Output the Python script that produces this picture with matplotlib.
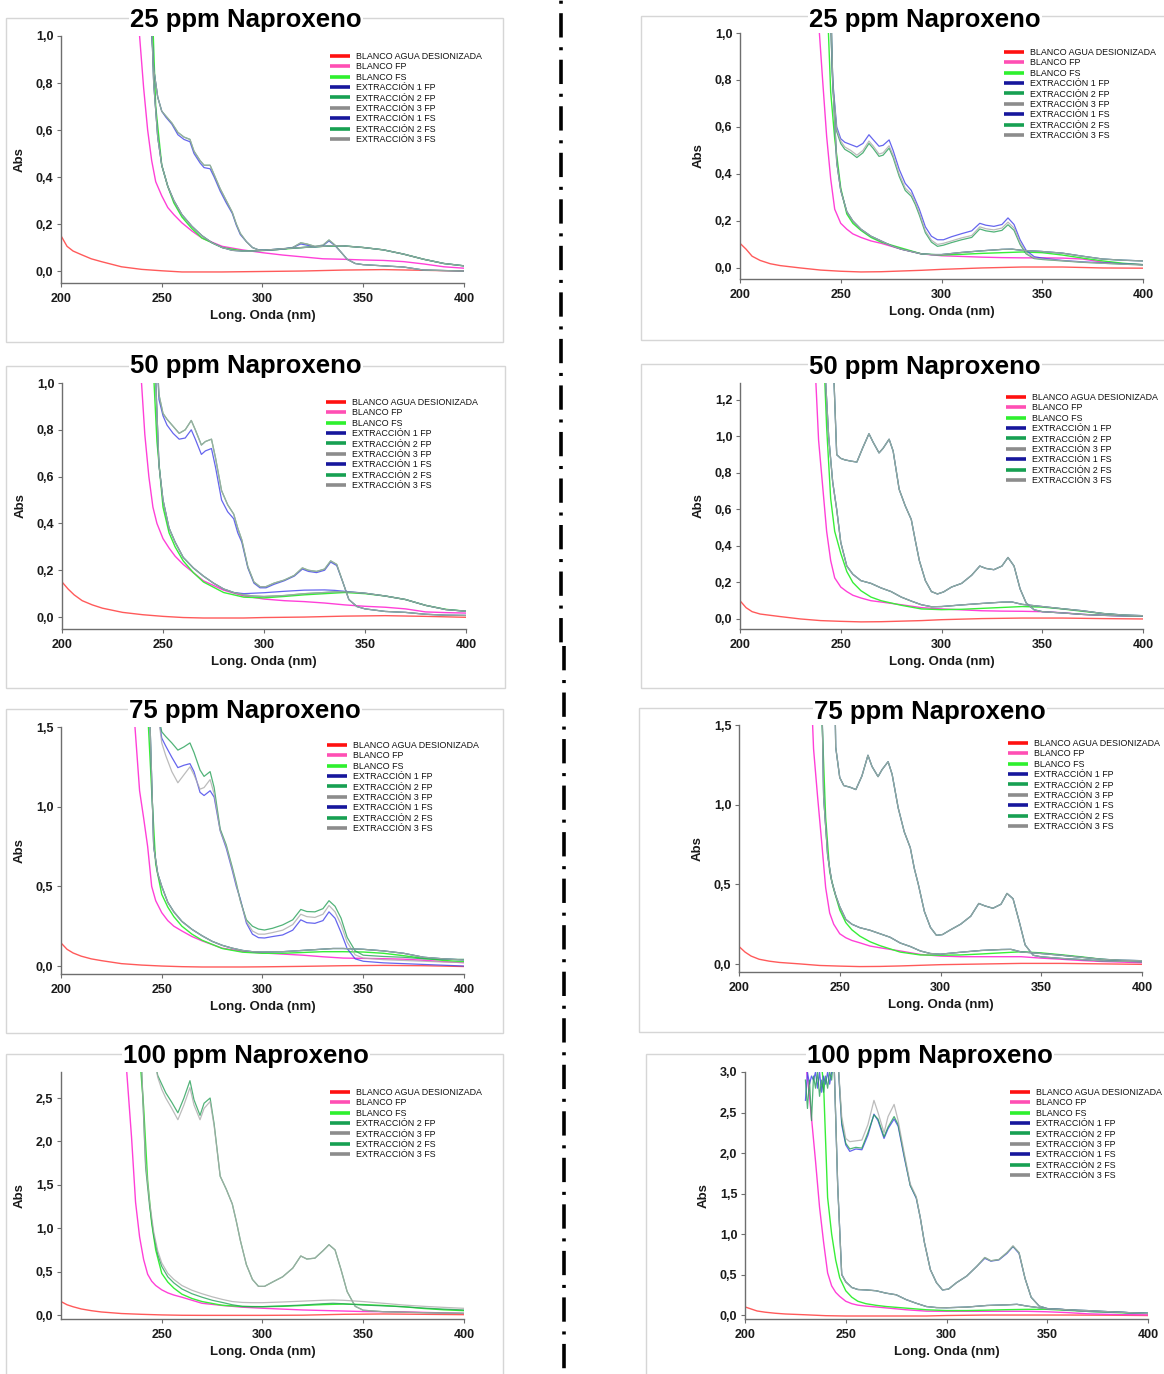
import matplotlib
matplotlib.use("Agg")
import matplotlib.pyplot as plt
from matplotlib.lines import Line2D
from matplotlib.patches import Rectangle
from matplotlib.ticker import FuncFormatter, FixedLocator
from matplotlib.font_manager import FontProperties

# ---------------- DATA ----------------
WL_RED = [200, 203, 206, 210, 215, 220, 230, 240, 250, 260, 270, 280, 290, 300, 320, 340, 360, 380, 400]
WL_BL = [228, 232, 235, 237, 239, 241, 243, 245, 247, 250, 253, 256, 260, 265, 270, 280, 290, 300, 310, 320,
         330, 340, 350, 360, 370, 380, 390, 400]
WL_LO = [232, 236, 240, 242, 244, 246, 248, 250, 253, 256, 260, 265, 270, 275, 280, 285, 290, 295, 300, 310,
         320, 330, 335, 340, 350, 360, 370, 380, 390, 400]
WL_HI = [244, 246, 248, 250, 252, 255, 258, 261, 264, 266, 269, 271, 274, 276, 279, 282, 285, 287, 289, 292,
         295, 298, 301, 305, 310, 315, 319, 322, 326, 330, 333, 336, 339, 342, 346, 350, 360, 370, 380, 390, 400]

TITLES = ["25 ppm Naproxeno", "25 ppm Naproxeno", "50 ppm Naproxeno", "50 ppm Naproxeno",
          "75 ppm Naproxeno", "75 ppm Naproxeno", "100 ppm Naproxeno", "100 ppm Naproxeno"]

# ---- 25 ppm (left) ----
L25_RED = [0.15, 0.105, 0.085, 0.07, 0.052, 0.04, 0.018, 0.007, 0.001, -0.004, -0.004, -0.004, -0.003, -0.002, 0.0, 0.004, 0.006, 0.003, 0.0]
L25_PINK = [4, 2.0, 1.6, 1.3, 1.0, 0.78, 0.6, 0.47, 0.38, 0.32, 0.27, 0.24, 0.205, 0.17, 0.14, 0.105, 0.09, 0.078, 0.068, 0.06, 0.052, 0.05, 0.047, 0.045, 0.04, 0.03, 0.018, 0.012]
L25_GRN = [4, 3, 3, 3, 3, 2.5, 1.8, 1.2, 0.7, 0.45, 0.36, 0.29, 0.23, 0.18, 0.14, 0.1, 0.086, 0.087, 0.093, 0.1, 0.105, 0.107, 0.1, 0.09, 0.072, 0.05, 0.032, 0.022]
L25_LO = [3, 3, 3, 2.5, 1.3, 0.8, 0.57, 0.45, 0.36, 0.30, 0.24, 0.19, 0.15, 0.12, 0.10, 0.088, 0.085, 0.085, 0.088, 0.095, 0.10, 0.105, 0.108, 0.107, 0.10, 0.09, 0.072, 0.05, 0.032, 0.022]
L25_HI_G = [1.2, 0.86, 0.74, 0.68, 0.66, 0.63, 0.59, 0.57, 0.56, 0.51, 0.47, 0.45, 0.45, 0.41, 0.35, 0.30, 0.25, 0.20, 0.16, 0.125, 0.10, 0.09, 0.088, 0.09, 0.093, 0.10, 0.12, 0.115, 0.105, 0.11, 0.132, 0.11, 0.08, 0.05, 0.032, 0.027, 0.022, 0.017, 0.004, 0.002, 0.0]
L25_HI_B = [1.2, 0.86, 0.74, 0.68, 0.655, 0.625, 0.58, 0.56, 0.55, 0.50, 0.46, 0.44, 0.435, 0.40, 0.34, 0.29, 0.245, 0.195, 0.155, 0.125, 0.10, 0.09, 0.088, 0.09, 0.093, 0.10, 0.115, 0.11, 0.103, 0.108, 0.128, 0.108, 0.08, 0.05, 0.032, 0.027, 0.022, 0.017, 0.004, 0.002, 0.0]

# ---- 25 ppm (right) ----
R25_RED = [0.105, 0.08, 0.05, 0.032, 0.018, 0.01, 0.0, -0.009, -0.014, -0.017, -0.016, -0.013, -0.01, -0.006, 0.0, 0.004, 0.004, 0.0, -0.001]
R25_PINK = [4, 2.0, 1.6, 1.3, 1.05, 0.80, 0.56, 0.38, 0.25, 0.19, 0.165, 0.145, 0.13, 0.115, 0.105, 0.08, 0.06, 0.052, 0.049, 0.046, 0.044, 0.043, 0.043, 0.042, 0.038, 0.025, 0.018, 0.014]
R25_GRN = [4, 3, 3, 3, 2.5, 1.8, 1.2, 0.75, 0.55, 0.34, 0.23, 0.19, 0.16, 0.13, 0.11, 0.085, 0.06, 0.055, 0.058, 0.062, 0.065, 0.068, 0.065, 0.055, 0.042, 0.03, 0.02, 0.014]
R25_LO = [3, 3, 3, 2.5, 1.5, 0.8, 0.45, 0.33, 0.24, 0.2, 0.165, 0.135, 0.115, 0.095, 0.08, 0.07, 0.06, 0.057, 0.057, 0.066, 0.073, 0.079, 0.08, 0.075, 0.07, 0.063, 0.05, 0.038, 0.033, 0.03]
R25_HI_B = [1.3, 0.8, 0.6, 0.55, 0.535, 0.525, 0.515, 0.53, 0.567, 0.547, 0.518, 0.522, 0.545, 0.50, 0.42, 0.36, 0.33, 0.29, 0.25, 0.175, 0.135, 0.12, 0.12, 0.133, 0.146, 0.158, 0.19, 0.182, 0.177, 0.185, 0.213, 0.185, 0.12, 0.075, 0.048, 0.042, 0.032, 0.026, 0.022, 0.018, 0.014]
R25_HI_G = [1.3, 0.78, 0.58, 0.53, 0.505, 0.49, 0.47, 0.49, 0.53, 0.51, 0.475, 0.48, 0.51, 0.47, 0.39, 0.33, 0.305, 0.27, 0.225, 0.15, 0.11, 0.092, 0.097, 0.108, 0.12, 0.13, 0.166, 0.158, 0.153, 0.16, 0.184, 0.16, 0.1, 0.06, 0.04, 0.036, 0.03, 0.024, 0.02, 0.016, 0.013]
R25_HI_K = [1.3, 0.79, 0.59, 0.54, 0.515, 0.5, 0.48, 0.5, 0.54, 0.52, 0.485, 0.49, 0.52, 0.48, 0.4, 0.34, 0.315, 0.28, 0.235, 0.158, 0.118, 0.1, 0.105, 0.115, 0.128, 0.138, 0.175, 0.167, 0.162, 0.17, 0.195, 0.17, 0.108, 0.065, 0.042, 0.038, 0.031, 0.025, 0.02, 0.016, 0.013]

# ---- 50 ppm (left) ----
L50_RED = [0.15, 0.12, 0.095, 0.07, 0.052, 0.038, 0.02, 0.01, 0.003, -0.002, -0.004, -0.004, -0.004, -0.002, 0.0, 0.004, 0.006, 0.003, -0.001]
L50_PINK = [4, 2.0, 1.6, 1.3, 1.05, 0.78, 0.6, 0.47, 0.4, 0.335, 0.295, 0.26, 0.225, 0.19, 0.155, 0.115, 0.09, 0.077, 0.07, 0.066, 0.06, 0.052, 0.046, 0.042, 0.035, 0.022, 0.019, 0.017]
L50_GRN = [4, 3, 3, 3, 2.5, 2.0, 1.5, 1.1, 0.75, 0.47, 0.36, 0.3, 0.24, 0.19, 0.15, 0.105, 0.085, 0.082, 0.088, 0.095, 0.1, 0.105, 0.1, 0.09, 0.075, 0.05, 0.033, 0.025]
L50_LO = [3, 3, 3, 2.5, 1.8, 1.1, 0.65, 0.5, 0.38, 0.32, 0.255, 0.21, 0.175, 0.145, 0.12, 0.105, 0.095, 0.09, 0.088, 0.092, 0.1, 0.105, 0.108, 0.108, 0.102, 0.09, 0.075, 0.05, 0.032, 0.025]
L50_LO_B = [3, 3, 3, 2.5, 1.8, 1.1, 0.65, 0.5, 0.38, 0.32, 0.255, 0.21, 0.175, 0.145, 0.12, 0.105, 0.1, 0.102, 0.104, 0.11, 0.115, 0.116, 0.114, 0.11, 0.102, 0.09, 0.075, 0.05, 0.032, 0.025]
L50_HI_G = [3, 1.3, 0.95, 0.87, 0.845, 0.815, 0.785, 0.80, 0.84, 0.80, 0.735, 0.75, 0.76, 0.68, 0.54, 0.48, 0.44, 0.38, 0.33, 0.215, 0.15, 0.13, 0.13, 0.145, 0.158, 0.178, 0.21, 0.20, 0.195, 0.205, 0.24, 0.225, 0.15, 0.075, 0.045, 0.035, 0.024, 0.02, 0.012, 0.008, 0.007]
L50_HI_B = [3, 1.3, 0.93, 0.86, 0.82, 0.785, 0.76, 0.765, 0.80, 0.76, 0.695, 0.71, 0.72, 0.64, 0.50, 0.45, 0.42, 0.36, 0.32, 0.21, 0.145, 0.125, 0.125, 0.14, 0.155, 0.175, 0.205, 0.195, 0.19, 0.2, 0.235, 0.22, 0.15, 0.075, 0.045, 0.035, 0.024, 0.02, 0.012, 0.008, 0.007]

# ---- 50 ppm (right) ----
R50_RED = [0.10, 0.062, 0.04, 0.027, 0.02, 0.013, 0.0, -0.009, -0.013, -0.016, -0.015, -0.012, -0.009, -0.004, 0.002, 0.005, 0.005, 0.002, 0.0]
R50_PINK = [4, 3, 2.2, 1.45, 0.98, 0.73, 0.48, 0.32, 0.225, 0.175, 0.15, 0.13, 0.115, 0.1, 0.093, 0.078, 0.062, 0.055, 0.05, 0.045, 0.043, 0.042, 0.04, 0.034, 0.025, 0.02, 0.017, 0.015]
R50_GRN = [4, 3, 3, 3, 2.5, 1.6, 1.05, 0.66, 0.48, 0.36, 0.26, 0.2, 0.155, 0.12, 0.1, 0.075, 0.055, 0.051, 0.053, 0.058, 0.063, 0.068, 0.065, 0.055, 0.042, 0.03, 0.02, 0.015]
R50_LO = [3, 3, 3, 1.4, 1.0, 0.75, 0.6, 0.42, 0.29, 0.245, 0.21, 0.195, 0.17, 0.15, 0.12, 0.098, 0.078, 0.067, 0.068, 0.077, 0.085, 0.092, 0.093, 0.08, 0.068, 0.056, 0.045, 0.03, 0.022, 0.018]
R50_HI = [3, 1.5, 0.9, 0.88, 0.872, 0.865, 0.86, 0.94, 1.015, 0.97, 0.91, 0.935, 0.985, 0.92, 0.71, 0.62, 0.545, 0.43, 0.32, 0.21, 0.15, 0.137, 0.148, 0.175, 0.195, 0.24, 0.29, 0.277, 0.27, 0.29, 0.337, 0.29, 0.165, 0.088, 0.05, 0.04, 0.033, 0.025, 0.02, 0.017, 0.015]

# ---- 75 ppm (left) ----
L75_RED = [0.145, 0.105, 0.082, 0.062, 0.045, 0.034, 0.015, 0.006, 0.0, -0.004, -0.006, -0.006, -0.006, -0.005, -0.002, 0.002, 0.004, 0.002, -0.003]
L75_PINK = [4, 2.5, 1.8, 1.45, 1.1, 0.93, 0.75, 0.5, 0.41, 0.335, 0.285, 0.25, 0.22, 0.185, 0.158, 0.112, 0.092, 0.082, 0.075, 0.068, 0.058, 0.05, 0.048, 0.046, 0.043, 0.036, 0.028, 0.021]
L75_GRN = [4, 3, 3, 3, 3, 3, 1.6, 1.1, 0.64, 0.45, 0.37, 0.31, 0.25, 0.2, 0.162, 0.11, 0.087, 0.08, 0.08, 0.085, 0.09, 0.09, 0.088, 0.08, 0.065, 0.048, 0.035, 0.027]
L75_LO = [3, 3, 3, 3, 1.6, 0.75, 0.58, 0.5, 0.4, 0.34, 0.28, 0.23, 0.19, 0.155, 0.13, 0.112, 0.098, 0.09, 0.088, 0.09, 0.098, 0.106, 0.11, 0.11, 0.105, 0.095, 0.08, 0.055, 0.045, 0.038]
L75_HI_G = [3, 3, 1.6, 1.47, 1.44, 1.40, 1.355, 1.375, 1.40, 1.34, 1.23, 1.19, 1.22, 1.12, 0.86, 0.76, 0.62, 0.52, 0.41, 0.29, 0.25, 0.232, 0.226, 0.237, 0.258, 0.29, 0.355, 0.342, 0.34, 0.36, 0.41, 0.375, 0.3, 0.18, 0.095, 0.068, 0.06, 0.055, 0.045, 0.042, 0.042]
L75_HI_B = [3, 3, 1.6, 1.43, 1.38, 1.31, 1.245, 1.26, 1.27, 1.22, 1.09, 1.07, 1.1, 1.06, 0.85, 0.74, 0.6, 0.5, 0.42, 0.27, 0.2, 0.178, 0.176, 0.185, 0.195, 0.225, 0.29, 0.272, 0.268, 0.285, 0.34, 0.3, 0.21, 0.11, 0.045, 0.03, 0.02, 0.015, 0.01, 0.005, 0.0]
L75_HI_K = [3, 3, 1.6, 1.4, 1.32, 1.22, 1.15, 1.2, 1.25, 1.2, 1.11, 1.12, 1.17, 1.08, 0.85, 0.75, 0.61, 0.51, 0.41, 0.28, 0.22, 0.2, 0.2, 0.21, 0.225, 0.26, 0.325, 0.31, 0.305, 0.325, 0.38, 0.34, 0.26, 0.15, 0.07, 0.05, 0.04, 0.035, 0.03, 0.025, 0.022]

# ---- 75 ppm (right) ----
R75_RED = [0.11, 0.075, 0.05, 0.03, 0.018, 0.01, 0.001, -0.009, -0.013, -0.016, -0.015, -0.012, -0.008, -0.004, 0.0, 0.004, 0.004, 0.001, -0.002]
R75_PINK = [4, 3, 2.0, 1.35, 1.05, 0.77, 0.48, 0.32, 0.25, 0.19, 0.165, 0.148, 0.133, 0.113, 0.102, 0.082, 0.06, 0.05, 0.046, 0.046, 0.046, 0.046, 0.037, 0.03, 0.022, 0.016, 0.012, 0.008]
R75_GRN = [4, 3, 3, 3, 3, 1.6, 0.92, 0.58, 0.47, 0.34, 0.26, 0.215, 0.175, 0.14, 0.115, 0.075, 0.057, 0.055, 0.057, 0.063, 0.07, 0.077, 0.07, 0.058, 0.045, 0.03, 0.02, 0.015]
R75_LO = [3, 3, 2.5, 1.05, 0.68, 0.52, 0.43, 0.36, 0.28, 0.25, 0.228, 0.212, 0.19, 0.168, 0.132, 0.11, 0.082, 0.066, 0.062, 0.074, 0.085, 0.091, 0.092, 0.076, 0.066, 0.055, 0.042, 0.03, 0.024, 0.021]
R75_HI = [3, 3, 1.36, 1.17, 1.12, 1.11, 1.095, 1.18, 1.31, 1.24, 1.176, 1.22, 1.27, 1.19, 0.98, 0.83, 0.73, 0.6, 0.5, 0.33, 0.23, 0.18, 0.185, 0.215, 0.25, 0.3, 0.38, 0.365, 0.35, 0.375, 0.443, 0.41, 0.27, 0.12, 0.055, 0.045, 0.035, 0.028, 0.02, 0.017, 0.015]

# ---- 100 ppm (left) ----
L100_RED = [0.155, 0.118, 0.095, 0.07, 0.05, 0.035, 0.017, 0.008, 0.001, -0.003, -0.004, -0.004, -0.004, -0.004, -0.002, 0.008, 0.012, 0.008, 0.004]
L100_PINK = [4, 3.0, 2.05, 1.3, 0.9, 0.64, 0.47, 0.39, 0.34, 0.29, 0.255, 0.23, 0.205, 0.17, 0.135, 0.11, 0.09, 0.078, 0.068, 0.058, 0.052, 0.046, 0.04, 0.038, 0.036, 0.03, 0.024, 0.019]
L100_GRN = [4, 3, 3, 3, 3, 2.4, 1.55, 1.06, 0.75, 0.48, 0.38, 0.31, 0.24, 0.19, 0.155, 0.112, 0.098, 0.096, 0.1, 0.11, 0.12, 0.126, 0.12, 0.11, 0.095, 0.075, 0.06, 0.05]
L100_LO_G = [3, 3, 2.85, 1.7, 1.25, 0.92, 0.7, 0.56, 0.44, 0.37, 0.3, 0.245, 0.205, 0.17, 0.145, 0.118, 0.1, 0.096, 0.096, 0.105, 0.115, 0.13, 0.135, 0.13, 0.115, 0.105, 0.095, 0.08, 0.068, 0.058]
L100_LO_K = [3, 3, 2.85, 1.75, 1.3, 0.96, 0.74, 0.6, 0.48, 0.41, 0.34, 0.285, 0.245, 0.21, 0.18, 0.155, 0.145, 0.142, 0.142, 0.15, 0.16, 0.17, 0.173, 0.17, 0.155, 0.135, 0.115, 0.1, 0.088, 0.077]
L100_HI_G = [3.5, 3.0, 2.76, 2.66, 2.56, 2.45, 2.33, 2.5, 2.7, 2.48, 2.3, 2.44, 2.5, 2.2, 1.6, 1.45, 1.28, 1.08, 0.86, 0.58, 0.41, 0.33, 0.33, 0.38, 0.44, 0.54, 0.68, 0.645, 0.655, 0.74, 0.81, 0.75, 0.52, 0.27, 0.1, 0.055, 0.038, 0.032, 0.027, 0.022, 0.019]
L100_HI_K = [3.5, 3.0, 2.74, 2.6, 2.5, 2.38, 2.25, 2.42, 2.62, 2.42, 2.25, 2.38, 2.46, 2.18, 1.6, 1.45, 1.28, 1.08, 0.86, 0.58, 0.41, 0.33, 0.33, 0.38, 0.44, 0.54, 0.68, 0.645, 0.655, 0.74, 0.81, 0.75, 0.52, 0.27, 0.1, 0.055, 0.038, 0.032, 0.027, 0.022, 0.019]

# ---- 100 ppm (right) ----
R100_RED = [0.1, 0.075, 0.05, 0.035, 0.022, 0.013, 0.003, -0.008, -0.012, -0.012, -0.012, -0.012, -0.012, -0.006, 0.0, 0.0, 0.0, -0.002, -0.006]
R100_PINK = [3.6, 2.7, 1.9, 1.33, 0.9, 0.52, 0.36, 0.28, 0.23, 0.17, 0.14, 0.122, 0.11, 0.1, 0.088, 0.065, 0.048, 0.046, 0.046, 0.046, 0.046, 0.046, 0.04, 0.03, 0.015, 0.008, 0.004, 0.002]
R100_GRN = [4, 3.5, 3.3, 3.3, 2.85, 1.45, 1.0, 0.68, 0.46, 0.3, 0.22, 0.17, 0.14, 0.12, 0.105, 0.085, 0.065, 0.055, 0.055, 0.06, 0.066, 0.07, 0.07, 0.058, 0.045, 0.035, 0.025, 0.02]
R100_LO = [3.5, 3.5, 3.5, 3.3, 3.3, 1.6, 0.5, 0.41, 0.34, 0.315, 0.31, 0.3, 0.27, 0.25, 0.19, 0.145, 0.105, 0.092, 0.09, 0.098, 0.118, 0.126, 0.132, 0.11, 0.077, 0.065, 0.055, 0.042, 0.03, 0.02]
R100_HI_B = [3.5, 3.2, 2.35, 2.1, 2.02, 2.05, 2.04, 2.22, 2.48, 2.4, 2.18, 2.3, 2.42, 2.33, 1.95, 1.6, 1.44, 1.2, 0.9, 0.56, 0.4, 0.31, 0.32, 0.4, 0.48, 0.6, 0.7, 0.665, 0.68, 0.76, 0.845, 0.76, 0.45, 0.22, 0.11, 0.08, 0.065, 0.045, 0.04, 0.03, 0.02]
R100_HI_G = [3.5, 3.2, 2.38, 2.12, 2.05, 2.07, 2.06, 2.25, 2.47, 2.42, 2.2, 2.32, 2.45, 2.35, 1.97, 1.6, 1.45, 1.2, 0.9, 0.56, 0.4, 0.31, 0.32, 0.4, 0.48, 0.6, 0.71, 0.67, 0.685, 0.77, 0.85, 0.77, 0.45, 0.22, 0.11, 0.08, 0.065, 0.045, 0.04, 0.03, 0.02]
R100_HI_K = [3.5, 3.2, 2.45, 2.18, 2.14, 2.15, 2.16, 2.35, 2.65, 2.5, 2.25, 2.45, 2.6, 2.4, 2.0, 1.62, 1.46, 1.2, 0.9, 0.56, 0.4, 0.31, 0.32, 0.4, 0.48, 0.6, 0.71, 0.67, 0.685, 0.77, 0.855, 0.77, 0.45, 0.22, 0.11, 0.08, 0.065, 0.045, 0.04, 0.03, 0.02]
R100_NOISE_WL = [230, 231, 232, 233, 234, 235, 236, 237, 238, 239, 240, 241, 242, 243, 244]
R100_NOISE_B = [2.65, 3.0, 2.85, 2.95, 2.9, 3.0, 2.8, 3.0, 2.75, 2.95, 2.85, 3.0, 2.85, 3.0, 3.2]
R100_NOISE_G = [2.9, 2.55, 2.9, 2.4, 2.95, 2.8, 3.0, 2.7, 2.9, 2.75, 2.95, 2.8, 3.0, 2.9, 3.2]

# ---------------- STYLE / LAYOUT ----------------
plt.rcParams['font.family'] = ['Liberation Sans', 'DejaVu Sans']
plt.rcParams['font.weight'] = 'bold'
plt.rcParams['lines.scale_dashes'] = False

W, H = 1164, 1374
fig = plt.figure(figsize=(W / 100, H / 100), dpi=100)


def fx(px):
    return px / W


def fy(py):
    return 1 - py / H


C_PLOT = {'red': '#ff5a5a', 'pink': '#ff40d8', 'lime': '#38ee38', 'blue': '#3f3fea',
          'green': '#26a057', 'gray': '#ababab'}
C_LEG = {'red': '#ff1010', 'pink': '#ff4fb4', 'lime': '#2ef02e', 'blue': '#16169c',
         'green': '#17a052', 'gray': '#8c8c8c'}

LEG_FONT = FontProperties(family=['Liberation Sans', 'DejaVu Sans'], size=6.4, weight='normal')

# series: (label, color key, wl, values)
SERIES = [
    [("BLANCO AGUA DESIONIZADA", 'red', WL_RED, L25_RED), ("BLANCO FP", 'pink', WL_BL, L25_PINK),
     ("BLANCO FS", 'lime', WL_BL, L25_GRN), ("EXTRACCIÓN 1 FP", 'blue', WL_HI, L25_HI_B),
     ("EXTRACCIÓN 2 FP", 'green', WL_HI, L25_HI_G), ("EXTRACCIÓN 3 FP", 'gray', WL_HI, L25_HI_G),
     ("EXTRACCIÓN 1 FS", 'blue', WL_LO, L25_LO), ("EXTRACCIÓN 2 FS", 'green', WL_LO, L25_LO),
     ("EXTRACCIÓN 3 FS", 'gray', WL_LO, L25_LO)],
    [("BLANCO AGUA DESIONIZADA", 'red', WL_RED, R25_RED), ("BLANCO FP", 'pink', WL_BL, R25_PINK),
     ("BLANCO FS", 'lime', WL_BL, R25_GRN), ("EXTRACCIÓN 1 FP", 'blue', WL_HI, R25_HI_B),
     ("EXTRACCIÓN 2 FP", 'green', WL_HI, R25_HI_G), ("EXTRACCIÓN 3 FP", 'gray', WL_HI, R25_HI_K),
     ("EXTRACCIÓN 1 FS", 'blue', WL_LO, R25_LO), ("EXTRACCIÓN 2 FS", 'green', WL_LO, R25_LO),
     ("EXTRACCIÓN 3 FS", 'gray', WL_LO, R25_LO)],
    [("BLANCO AGUA DESIONIZADA", 'red', WL_RED, L50_RED), ("BLANCO FP", 'pink', WL_BL, L50_PINK),
     ("BLANCO FS", 'lime', WL_BL, L50_GRN), ("EXTRACCIÓN 1 FP", 'blue', WL_HI, L50_HI_B),
     ("EXTRACCIÓN 2 FP", 'green', WL_HI, L50_HI_G), ("EXTRACCIÓN 3 FP", 'gray', WL_HI, L50_HI_G),
     ("EXTRACCIÓN 1 FS", 'blue', WL_LO, L50_LO_B), ("EXTRACCIÓN 2 FS", 'green', WL_LO, L50_LO),
     ("EXTRACCIÓN 3 FS", 'gray', WL_LO, L50_LO)],
    [("BLANCO AGUA DESIONIZADA", 'red', WL_RED, R50_RED), ("BLANCO FP", 'pink', WL_BL, R50_PINK),
     ("BLANCO FS", 'lime', WL_BL, R50_GRN), ("EXTRACCIÓN 1 FP", 'blue', WL_HI, R50_HI),
     ("EXTRACCIÓN 2 FP", 'green', WL_HI, R50_HI), ("EXTRACCIÓN 3 FP", 'gray', WL_HI, R50_HI),
     ("EXTRACCIÓN 1 FS", 'blue', WL_LO, R50_LO), ("EXTRACCIÓN 2 FS", 'green', WL_LO, R50_LO),
     ("EXTRACCIÓN 3 FS", 'gray', WL_LO, R50_LO)],
    [("BLANCO AGUA DESIONIZADA", 'red', WL_RED, L75_RED), ("BLANCO FP", 'pink', WL_BL, L75_PINK),
     ("BLANCO FS", 'lime', WL_BL, L75_GRN), ("EXTRACCIÓN 1 FP", 'blue', WL_HI, L75_HI_B),
     ("EXTRACCIÓN 2 FP", 'green', WL_HI, L75_HI_G), ("EXTRACCIÓN 3 FP", 'gray', WL_HI, L75_HI_K),
     ("EXTRACCIÓN 1 FS", 'blue', WL_LO, L75_LO), ("EXTRACCIÓN 2 FS", 'green', WL_LO, L75_LO),
     ("EXTRACCIÓN 3 FS", 'gray', WL_LO, L75_LO)],
    [("BLANCO AGUA DESIONIZADA", 'red', WL_RED, R75_RED), ("BLANCO FP", 'pink', WL_BL, R75_PINK),
     ("BLANCO FS", 'lime', WL_BL, R75_GRN), ("EXTRACCIÓN 1 FP", 'blue', WL_HI, R75_HI),
     ("EXTRACCIÓN 2 FP", 'green', WL_HI, R75_HI), ("EXTRACCIÓN 3 FP", 'gray', WL_HI, R75_HI),
     ("EXTRACCIÓN 1 FS", 'blue', WL_LO, R75_LO), ("EXTRACCIÓN 2 FS", 'green', WL_LO, R75_LO),
     ("EXTRACCIÓN 3 FS", 'gray', WL_LO, R75_LO)],
    [("BLANCO AGUA DESIONIZADA", 'red', WL_RED, L100_RED), ("BLANCO FP", 'pink', WL_BL, L100_PINK),
     ("BLANCO FS", 'lime', WL_BL, L100_GRN),
     ("EXTRACCIÓN 2 FP", 'green', WL_HI, L100_HI_G), ("EXTRACCIÓN 3 FP", 'gray', WL_HI, L100_HI_K),
     ("EXTRACCIÓN 2 FS", 'green', WL_LO, L100_LO_G), ("EXTRACCIÓN 3 FS", 'gray', WL_LO, L100_LO_K)],
    [("BLANCO AGUA DESIONIZADA", 'red', WL_RED, R100_RED), ("BLANCO FP", 'pink', WL_BL, R100_PINK),
     ("BLANCO FS", 'lime', WL_BL, R100_GRN), ("EXTRACCIÓN 1 FP", 'blue', WL_HI, R100_HI_B),
     ("EXTRACCIÓN 2 FP", 'green', WL_HI, R100_HI_G), ("EXTRACCIÓN 3 FP", 'gray', WL_HI, R100_HI_K),
     ("EXTRACCIÓN 1 FS", 'blue', WL_LO, R100_LO), ("EXTRACCIÓN 2 FS", 'green', WL_LO, R100_LO),
     ("EXTRACCIÓN 3 FS", 'gray', WL_LO, R100_LO)],
]

AX_PX = [(61, 464, 36, 283), (740, 1143, 33, 279), (62, 466, 383, 629), (740, 1143, 383, 629),
         (61, 464, 727, 974), (739, 1142, 725, 972), (61, 464, 1072, 1319), (745, 1148, 1072, 1319)]
YLIMS = [(-0.051, 1.0), (-0.047, 1.0), (-0.051, 1.0), (-0.055, 1.293),
         (-0.05, 1.5), (-0.05, 1.5), (-0.046, 2.8), (-0.049, 3.0)]
YTICKS = [[0, 0.2, 0.4, 0.6, 0.8, 1.0], [0, 0.2, 0.4, 0.6, 0.8, 1.0], [0, 0.2, 0.4, 0.6, 0.8, 1.0],
          [0, 0.2, 0.4, 0.6, 0.8, 1.0, 1.2], [0, 0.5, 1.0, 1.5], [0, 0.5, 1.0, 1.5],
          [0, 0.5, 1.0, 1.5, 2.0, 2.5], [0, 0.5, 1.0, 1.5, 2.0, 2.5, 3.0]]
XT_FULL = [200, 250, 300, 350, 400]
XT_100 = [250, 300, 350, 400]
XTICKS = [XT_FULL] * 6 + [XT_100, XT_FULL]
TITLE_PX = [(246, 20), (925, 20), (246, 366), (925, 367), (245, 711), (930, 712), (246, 1056), (930, 1056)]
FRAME_PX = [(6, 18, 503, 342), (641, 16, 1180, 340), (6, 366, 505, 688), (641, 364, 1180, 688),
            (6, 709, 503, 1033), (639, 708, 1180, 1032), (6, 1054, 503, 1390), (646, 1054, 1180, 1390)]
LEG_PX = [(330, 57), (1004, 53), (326, 403), (1006, 398), (327, 746), (1008, 744), (330, 1093), (1010, 1093)]
ROW_PITCH = 10.3

fmt = FuncFormatter(lambda v, p: f"{v:.1f}".replace('.', ','))

for (x0, y0, x1, y1) in FRAME_PX:
    fig.add_artist(Rectangle((fx(x0), fy(y1)), (x1 - x0) / W, (y1 - y0) / H, transform=fig.transFigure,
                             fill=False, ec='#d6d6d6', lw=1.0, zorder=0))

for i in range(8):
    x0, x1, yt, yb = AX_PX[i]
    ax = fig.add_axes([fx(x0), fy(yb), (x1 - x0) / W, (yb - yt) / H])
    ax.set_xlim(200, 400)
    ax.set_ylim(*YLIMS[i])
    ax.patch.set_alpha(0)
    for lab, ck, wl, vals in SERIES[i]:
        ext = lab.startswith("EXTR")
        ax.plot(wl, vals, color=C_PLOT[ck], lw=0.9 if ext else 1.0, alpha=0.8 if ext else 1.0,
                solid_joinstyle='round')
    if i == 7:
        ax.plot(R100_NOISE_WL, R100_NOISE_B, color=C_PLOT['blue'], lw=0.9, alpha=0.8)
        ax.plot(R100_NOISE_WL, R100_NOISE_G, color=C_PLOT['green'], lw=0.9, alpha=0.8)
    for s in ('top', 'right'):
        ax.spines[s].set_visible(False)
    for s in ('left', 'bottom'):
        ax.spines[s].set_color('#6e6e6e')
        ax.spines[s].set_linewidth(1.0)
    ax.xaxis.set_major_locator(FixedLocator(XTICKS[i]))
    ax.yaxis.set_major_locator(FixedLocator(YTICKS[i]))
    ax.xaxis.set_major_formatter(FuncFormatter(lambda v, p: f"{v:.0f}"))
    ax.yaxis.set_major_formatter(fmt)
    ax.tick_params(direction='out', length=3, width=0.8, color='#6e6e6e', labelsize=9,
                   labelcolor='#1a1a1a', pad=2.5)
    ax.tick_params(axis='x', pad=4.5)
    ax.set_xlabel("Long. Onda (nm)", fontsize=9.5, fontweight='bold', color='#1a1a1a')
    ax.set_ylabel("Abs", fontsize=9.5, fontweight='bold', color='#1a1a1a')
    ax.xaxis.set_label_coords(0.5, -0.108)
    ax.yaxis.set_label_coords(-0.088, 0.5)

    handles = [Line2D([], [], color=C_LEG[ck], lw=2.6, solid_capstyle='butt') for lab, ck, wl, vals in SERIES[i]]
    labels = [lab for lab, ck, wl, vals in SERIES[i]]
    lx, ly = LEG_PX[i]
    ax.legend(handles, labels, loc='upper left', bbox_to_anchor=(fx(lx), fy(ly - ROW_PITCH / 2)),
              bbox_transform=fig.transFigure, frameon=False, borderpad=0, borderaxespad=0,
              handlelength=2.25, handletextpad=0.65, labelspacing=0.16, prop=LEG_FONT,
              labelcolor='#111111')

    tx, ty = TITLE_PX[i]
    fig.text(fx(tx), fy(ty), TITLES[i], ha='center', va='center', fontsize=18.5, fontweight='bold',
             color='black', bbox=dict(fc='white', ec='none', pad=0.5), zorder=5)

fig.add_artist(Line2D([fx(561), fx(561)], [fy(0), fy(646)], transform=fig.transFigure, color='black',
                      lw=2.6, linestyle=(24, (17.5, 7.0, 2.2, 6.8))))
fig.add_artist(Line2D([fx(564), fx(564)], [fy(646), fy(1374)], transform=fig.transFigure, color='black',
                      lw=2.6, linestyle=(0, (17.5, 7.0, 2.2, 6.8))))

fig.savefig("out.png", dpi=100, facecolor='white')
